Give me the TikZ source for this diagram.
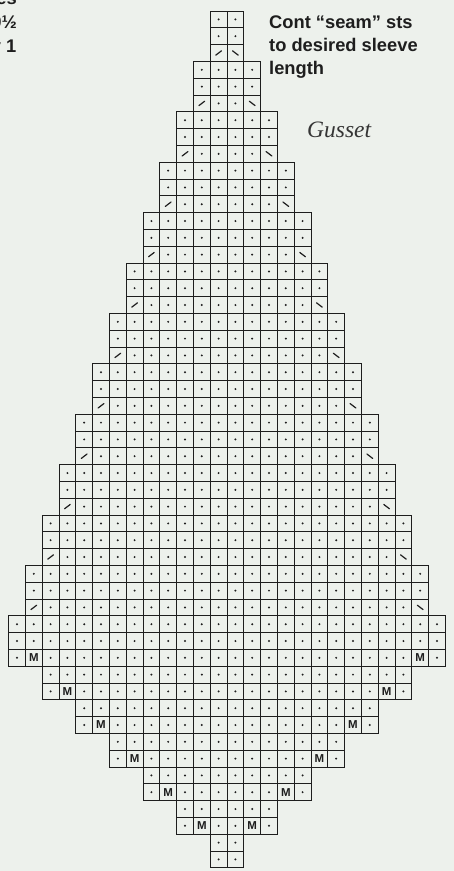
\documentclass[tikz,border=0pt]{standalone}
\usepackage{fontspec}
\setmainfont{Liberation Serif}
\newfontfamily\labelfont{Liberation Sans}

\definecolor{paper}{RGB}{237,241,236}
\definecolor{ink}{RGB}{30,30,30}

\tikzset{
  chart/.style={draw=ink, line width=0.9pt},
  purl/.style={fill=ink},
  decst/.style={draw=ink, line width=1.2pt, line cap=round},
  mst/.style={font=\labelfont\bfseries\fontsize{11.5}{11.5}\selectfont, text=ink, inner sep=0pt},
  note/.style={font=\labelfont\bfseries\fontsize{18.3}{22}\selectfont, text=ink, inner sep=0pt, anchor=base west},
  cutnote/.style={note, anchor=base east},
  title/.style={font=\itshape\fontsize{23.5}{26}\selectfont, text=ink!90, inner sep=0pt, anchor=base west},
}

\begin{document}
\begin{tikzpicture}[x=1pt, y=1pt]
    % Page
    \fill[paper] (0,0) rectangle (454,-871);
    \useasboundingbox (0,0) rectangle (454,-871);
    \clip (0,0) rectangle (454,-871);

    % Text cut at the left edge
    \node[cutnote] (cut1) at (17,-4) {es};
    \node[cutnote] (cut2) at (17,-28) {9½};
    \node[cutnote] (cut3) at (16.5,-52) {y 1};

    % Notes
    \node[note] (cont1) at (269,-28) {Cont “seam” sts};
    \node[note] (cont2) at (269,-51.5) {to desired sleeve};
    \node[note] (cont3) at (269,-74.5) {length};
    \node[title] (gusset) at (307,-137) {Gusset};

    \begin{scope}[shift={(227,-11)}, x=16.8pt, y=16.8pt]
    % Top: three rows per block, decs in the last row
    \foreach \g in {1,...,12} {
        \pgfmathtruncatemacro{\row}{3*\g-3}
        \pgfmathtruncatemacro{\last}{\g-1}
        \draw[chart] (-\g,-\row-3) rectangle (\g,-\row);
        \draw[chart] (-\g,-\row-1) -- (\g,-\row-1) (-\g,-\row-2) -- (\g,-\row-2);
        \foreach \col in {-\g,...,\last} {
            \draw[chart] (\col,-\row-3) -- (\col,-\row);
            \fill[purl] (\col+0.5,-\row-0.5) circle (1.1pt);
            \fill[purl] (\col+0.5,-\row-1.5) circle (1.1pt);
            \ifnum\col=-\g
                \draw[decst] (\col+0.33,-\row-2.63) -- (\col+0.67,-\row-2.37);
            \else\ifnum\col=\last
                \draw[decst] (\col+0.33,-\row-2.37) -- (\col+0.67,-\row-2.63);
            \else
                \fill[purl] (\col+0.5,-\row-2.5) circle (1.1pt);
            \fi\fi
        }
    }

    % Widest plain row
    \draw[chart] (-13,-37) rectangle (13,-36);
    \foreach \col in {-13,...,12} {
        \draw[chart] (\col,-37) -- (\col,-36);
        \fill[purl] (\col+0.5,-36.5) circle (1.1pt);
    }

    % Bottom: two rows per block, M in the lower row
    \foreach \hw/\row in {13/37, 11/39, 9/41, 7/43, 5/45, 3/47} {
        \pgfmathtruncatemacro{\last}{\hw-1}
        \pgfmathtruncatemacro{\ml}{1-\hw}
        \pgfmathtruncatemacro{\mr}{\hw-2}
        \draw[chart] (-\hw,-\row-2) rectangle (\hw,-\row);
        \draw[chart] (-\hw,-\row-1) -- (\hw,-\row-1);
        \node[mst] (m-\row-l) at (\ml+0.5,-\row-1.5) {M};
        \node[mst] (m-\row-r) at (\mr+0.5,-\row-1.5) {M};
        \foreach \col in {-\hw,...,\last} {
            \draw[chart] (\col,-\row-2) -- (\col,-\row);
            \fill[purl] (\col+0.5,-\row-0.5) circle (1.1pt);
            \ifnum\col=\ml \else\ifnum\col=\mr \else
                \fill[purl] (\col+0.5,-\row-1.5) circle (1.1pt);
            \fi\fi
        }
    }

    % Cast on
    \draw[chart] (-1,-51) rectangle (1,-49);
    \draw[chart] (-1,-50) -- (1,-50) (0,-51) -- (0,-49);
    \foreach \col in {-1,0} {
        \fill[purl] (\col+0.5,-49.5) circle (1.1pt);
        \fill[purl] (\col+0.5,-50.5) circle (1.1pt);
    }
    \end{scope}
\end{tikzpicture}
\end{document}
